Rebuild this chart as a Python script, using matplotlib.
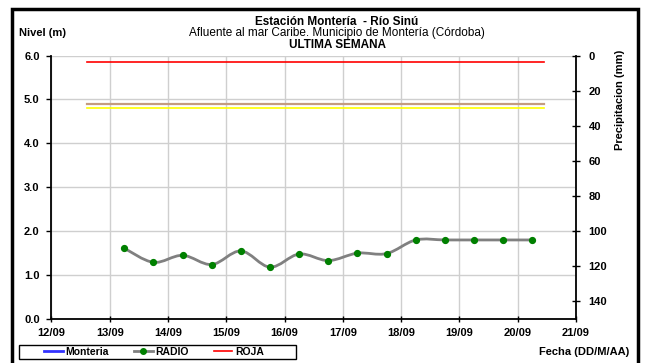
import numpy as np
import pandas as pd
import matplotlib
matplotlib.use("Agg")
import matplotlib.pyplot as plt
import matplotlib.dates as mdates
from matplotlib.path import Path
from matplotlib.patches import PathPatch, Rectangle
from matplotlib.lines import Line2D

plt.rcParams['font.family'] = ['Liberation Sans', 'DejaVu Sans']

# level readings (m), every 12 hours
times = pd.date_range("2023-09-13 06:00", "2023-09-20 06:00", freq="12h")
radio = [1.61, 1.29, 1.45, 1.24, 1.55, 1.18, 1.48, 1.33, 1.50, 1.49,
         1.80, 1.80, 1.80, 1.80, 1.80]

# alert thresholds (m)
roja = 5.85
naranja = 4.90
amarilla = 4.80
umbral_ini = pd.Timestamp("2023-09-12 14:30")
umbral_fin = pd.Timestamp("2023-09-20 11:00")

x_ini = pd.Timestamp("2023-09-12")
x_fin = pd.Timestamp("2023-09-21")

fig = plt.figure(figsize=(6.61, 3.63), dpi=100)
ax = fig.add_axes([0.0779, 0.1212, 0.7935, 0.7259])

# smooth line (Excel style) drawn as cubic bezier through the points
xs = mdates.date2num(times.to_pydatetime())
ys = np.array(radio)
pts = np.column_stack([xs, ys])
verts = [pts[0]]
codes = [Path.MOVETO]
n = len(pts)
for i in range(n - 1):
    p0 = pts[i - 1] if i > 0 else pts[i]
    p1 = pts[i]
    p2 = pts[i + 1]
    p3 = pts[i + 2] if i + 2 < n else pts[i + 1]
    c1 = p1 + (p2 - p0) / 6.0
    c2 = p2 - (p3 - p1) / 6.0
    verts += [c1, c2, p2]
    codes += [Path.CURVE4] * 3
ax.add_patch(PathPatch(Path(verts, codes), fc="none", ec="#808080", lw=2, zorder=3))
ax.plot(times, radio, ls="none", marker="o", ms=4.2, mfc="#008000", mec="#008000", zorder=4)

ax.plot([umbral_ini, umbral_fin], [roja, roja], color="#ff0000", lw=1.2, zorder=2)
ax.plot([umbral_ini, umbral_fin], [naranja, naranja], color="#c49c80", lw=1.6, zorder=2)
ax.plot([umbral_ini, umbral_fin], [amarilla, amarilla], color="#ffff00", lw=1.2, zorder=2)

ax.set_xlim(x_ini, x_fin)
ax.set_ylim(0, 6)
ax.xaxis.set_major_locator(mdates.DayLocator())
ax.xaxis.set_major_formatter(mdates.DateFormatter("%d/%m"))
ax.set_yticks(np.arange(0, 6.1, 1.0))
ax.yaxis.set_major_formatter(matplotlib.ticker.FormatStrFormatter("%.1f"))
ax.grid(True, color="#cfcfcf", lw=1)
ax.set_axisbelow(True)
for s in ["top", "right"]:
    ax.spines[s].set_visible(False)
for s in ["left", "bottom"]:
    ax.spines[s].set_linewidth(1.3)
ax.tick_params(axis="x", direction="inout", length=5, width=1, pad=4, labelsize=8)
ax.tick_params(axis="y", direction="out", length=3.5, width=1, pad=5, labelsize=8)
for lab in ax.get_xticklabels() + ax.get_yticklabels():
    lab.set_fontweight("bold")

ax2 = ax.twinx()
ax2.set_ylim(150, 0)
ax2.set_yticks(np.arange(0, 141, 20))
for s in ["top", "left", "bottom"]:
    ax2.spines[s].set_visible(False)
ax2.spines["right"].set_linewidth(1.3)
ax2.tick_params(axis="y", direction="inout", length=6, width=1, pad=6, labelsize=8)
for lab in ax2.get_yticklabels():
    lab.set_fontweight("bold")

fig.text(0.51, 0.940, "Estación Montería  - Río Sinú", ha="center", va="center",
         fontsize=8.5, fontweight="bold")
fig.text(0.51, 0.908, "Afluente al mar Caribe. Municipio de Montería (Córdoba)",
         ha="center", va="center", fontsize=8.5)
fig.text(0.51, 0.876, "ULTIMA SEMANA", ha="center", va="center",
         fontsize=8.5, fontweight="bold")
fig.text(19 / 661, 1 - 33 / 363, "Nivel (m)", ha="left", va="center",
         fontsize=8, fontweight="bold")
fig.text(0.938, 0.725, "Precipitacion (mm)", ha="center", va="center",
         rotation=90, fontsize=8, fontweight="bold")
fig.text(0.952, 0.030, "Fecha (DD/M/AA)", ha="right", va="center",
         fontsize=8, fontweight="bold")

handles = [Line2D([], [], color="#3333ff", lw=2),
           Line2D([], [], color="#808080", lw=2, marker="o", ms=4, mfc="#008000", mec="#008000"),
           Line2D([], [], color="#ff0000", lw=1.2)]
leg = fig.legend(handles, ["Monteria", "RADIO", "ROJA"], loc="center left",
                 bbox_to_anchor=(44 / 661, 1 - 352 / 363), ncol=3, frameon=False,
                 handlelength=1.8, handletextpad=0.25, borderpad=0, borderaxespad=0,
                 columnspacing=2.4, prop={"weight": "bold", "size": 7.5})

# legend box
fig.patches.append(Rectangle((18.7 / 661, 1 - 358.5 / 363), (296 - 18.7) / 661, 13.5 / 363,
                             transform=fig.transFigure, fill=False, ec="black", lw=1.0))
# outer frame
fig.patches.append(Rectangle((12 / 661, -0.02), (638 - 12) / 661, 1.02 - 9 / 363,
                             transform=fig.transFigure, fill=False, ec="black", lw=2.5))

fig.savefig("out.png", dpi=100)
